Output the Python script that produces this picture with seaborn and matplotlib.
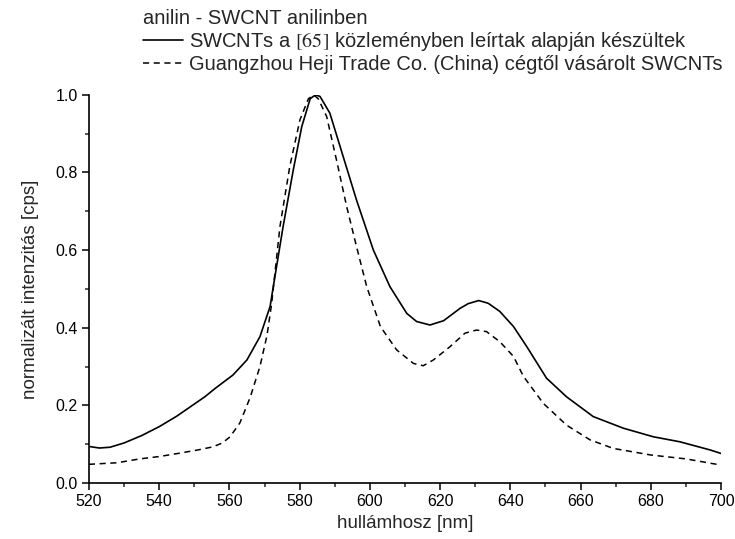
import numpy as np
import pandas as pd
import matplotlib
matplotlib.use("Agg")
import matplotlib.pyplot as plt
from matplotlib.ticker import MultipleLocator
import seaborn as sns

# Mért görbék (a képről leolvasott értékek)
hullam_1 = [520, 523, 526, 530, 535, 540, 545, 549, 553, 556, 561, 565, 568.7, 571.6, 572.5,
            575.3, 578.2, 580.6, 583, 584.5, 585.8, 588.6, 592.4, 596.2, 601, 605.7, 610.5,
            613.3, 617.1, 621, 625.7, 628, 631, 633.7, 637, 640.9, 644.7, 648.5, 650.3, 656,
            663.6, 672.2, 680.7, 688.3, 696.9, 700]
int_1 = [0.094, 0.090, 0.092, 0.103, 0.122, 0.145, 0.172, 0.197, 0.222, 0.244, 0.278, 0.317,
         0.377, 0.455, 0.506, 0.661, 0.807, 0.918, 0.99, 1.0, 0.996, 0.953, 0.841, 0.729, 0.60,
         0.506, 0.437, 0.416, 0.407, 0.418, 0.45, 0.462, 0.47, 0.463, 0.442, 0.403, 0.351,
         0.296, 0.27, 0.222, 0.171, 0.141, 0.119, 0.106, 0.085, 0.076]

hullam_2 = [520, 528, 534.5, 540, 546, 551, 555.3, 558, 560.2, 563, 565.9, 568.7, 570.7, 572,
            574.4, 577.2, 580.1, 582.5, 584, 585.3, 587.7, 590.5, 593.4, 596.2, 599.1, 603,
            607.6, 612.4, 615.2, 618.1, 622.8, 627.1, 630.4, 633.2, 637, 640.9, 643.7, 649.4,
            656, 662.7, 669.3, 680, 690, 700]
int_2 = [0.048, 0.052, 0.062, 0.068, 0.077, 0.085, 0.093, 0.103, 0.119, 0.155, 0.22, 0.30,
         0.38, 0.46, 0.661, 0.816, 0.936, 0.99, 1.0, 0.99, 0.944, 0.832, 0.712, 0.609, 0.506,
         0.403, 0.343, 0.308, 0.302, 0.317, 0.351, 0.386, 0.394, 0.39, 0.364, 0.326, 0.275,
         0.205, 0.149, 0.111, 0.089, 0.072, 0.062, 0.046]

cim = "anilin - SWCNT anilinben"
cimke_1 = r"SWCNTs a $\mathrm{[65]}$ közleményben leírtak alapján készültek"
cimke_2 = "Guangzhou Heji Trade Co. (China) cégtől vásárolt SWCNTs"

sns.set_style("ticks")
plt.rcParams['font.family'] = ['Liberation Sans', 'DejaVu Sans']
plt.rcParams['mathtext.fontset'] = 'stix'

fig = plt.figure(figsize=(7.35, 5.39), dpi=100)
ax = fig.add_axes([0.121, 0.104, 0.860, 0.720])

sns.lineplot(x=hullam_1, y=int_1, ax=ax, color='black', linewidth=1.2, label=cimke_1)
sns.lineplot(x=hullam_2, y=int_2, ax=ax, color='black', linewidth=1.1,
             linestyle=(0, (4, 3)), label=cimke_2)

ax.set_xlim(520, 700)
ax.set_ylim(0, 1.0)
ax.xaxis.set_major_locator(MultipleLocator(20))
ax.xaxis.set_minor_locator(MultipleLocator(10))
ax.yaxis.set_major_locator(MultipleLocator(0.2))
ax.yaxis.set_minor_locator(MultipleLocator(0.1))
ax.yaxis.set_major_formatter(plt.FormatStrFormatter('%.1f'))
ax.tick_params(which='major', length=5, width=1.1, labelsize=11.5, colors='black', pad=3)
ax.tick_params(which='minor', length=3, width=1.1)
for s in ['left', 'bottom']:
    ax.spines[s].set_linewidth(1.2)
    ax.spines[s].set_color('black')
sns.despine(ax=ax)

ax.set_xlabel("hullámhosz [nm]", fontsize=13.5, labelpad=4)
ax.set_ylabel("normalizált intenzitás [cps]", fontsize=13.5, labelpad=12)

ax.get_legend().remove()
h, l = ax.get_legend_handles_labels()
leg = fig.legend(h, l, title=cim, loc='upper left', bbox_to_anchor=(0.186, 0.995),
                 frameon=False, fontsize=14.5, title_fontsize=14.5, handlelength=2.0,
                 handletextpad=0.3, borderpad=0.3, borderaxespad=0, labelspacing=0.1,
                 alignment='left')

fig.savefig("out.png", dpi=100)
